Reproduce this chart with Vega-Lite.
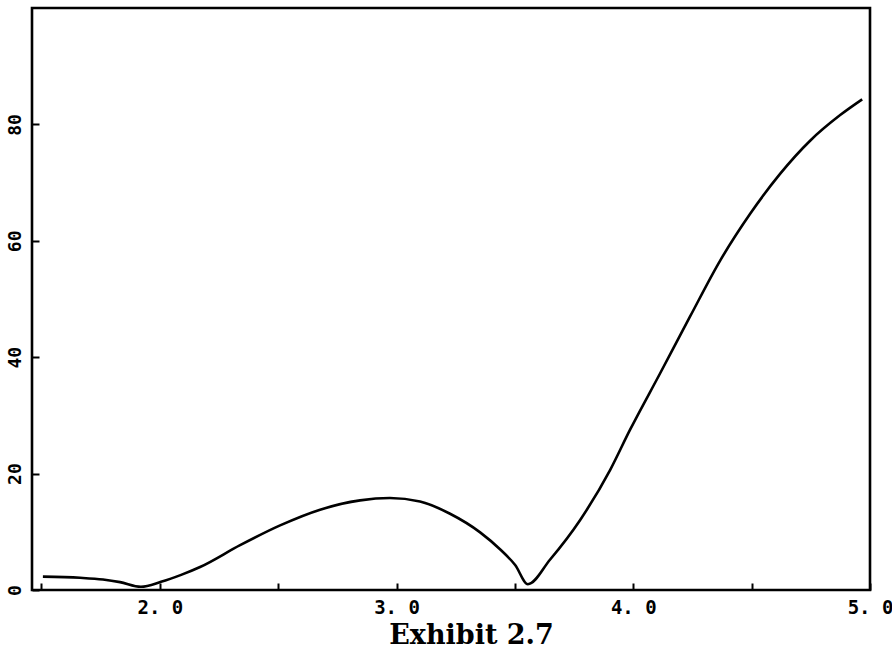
{
  "$schema": "https://vega.github.io/schema/vega-lite/v6.json",
  "width": 838,
  "height": 582,
  "autosize": "none",
  "padding": {"left": 32, "top": 8, "right": 22, "bottom": 61},
  "background": "white",
  "config": {
    "view": {"stroke": "black", "strokeWidth": 2.6},
    "axis": {
      "domain": false,
      "grid": false,
      "ticks": true,
      "tickColor": "black",
      "tickWidth": 2,
      "tickSize": -7,
      "labelColor": "black",
      "labelFont": "DejaVu Sans Mono",
      "labelFontWeight": "bold",
      "labelFontSize": 19
    }
  },
  "data": {
    "values": [
      {"x": 1.506, "y": 2.3},
      {"x": 1.663, "y": 2.1},
      {"x": 1.76, "y": 1.8},
      {"x": 1.832, "y": 1.35},
      {"x": 1.92, "y": 0.55},
      {"x": 2.005, "y": 1.4},
      {"x": 2.09, "y": 2.6},
      {"x": 2.17, "y": 3.95},
      {"x": 2.339, "y": 7.7},
      {"x": 2.508, "y": 11.1},
      {"x": 2.677, "y": 13.8},
      {"x": 2.846, "y": 15.4},
      {"x": 2.972, "y": 15.8},
      {"x": 3.099, "y": 15.2},
      {"x": 3.226, "y": 13.1},
      {"x": 3.353, "y": 9.9},
      {"x": 3.437, "y": 7.0},
      {"x": 3.501, "y": 4.3},
      {"x": 3.555, "y": 1.0},
      {"x": 3.648, "y": 5.2},
      {"x": 3.775, "y": 12.0},
      {"x": 3.902, "y": 20.6},
      {"x": 3.986, "y": 27.5},
      {"x": 4.113, "y": 37.2},
      {"x": 4.24, "y": 47.0},
      {"x": 4.367, "y": 56.6},
      {"x": 4.493, "y": 64.6},
      {"x": 4.62, "y": 71.5},
      {"x": 4.747, "y": 77.2},
      {"x": 4.874, "y": 81.6},
      {"x": 4.967, "y": 84.3}
    ]
  },
  "mark": {"type": "line", "color": "black", "strokeWidth": 2.6, "interpolate": "monotone"},
  "encoding": {
    "x": {
      "field": "x",
      "type": "quantitative",
      "scale": {"domain": [1.46, 5.0], "nice": false, "zero": false},
      "axis": {
        "values": [1.5, 2, 2.5, 3, 3.5, 4, 4.5, 5],
        "labelExpr": "datum.value % 1 === 0 ? replace(format(datum.value, '.1f'), '.', '. ') : ''",
        "labelPadding": 24,
        "labelBaseline": "middle",
        "labelDx": -6,
        "labelFlush": false,
        "labelOverlap": false,
        "title": "Exhibit 2.7",
        "titleFont": "DejaVu Serif",
        "titleFontWeight": "bold",
        "titleFontSize": 27,
        "titleColor": "black",
        "titleX": 439,
        "titleY": 53,
        "titleAlign": "center",
        "titleBaseline": "alphabetic"
      }
    },
    "y": {
      "field": "y",
      "type": "quantitative",
      "scale": {"domain": [0, 100], "nice": false},
      "axis": {
        "values": [0, 20, 40, 60, 80],
        "labelAngle": -90,
        "labelAlign": "center",
        "labelBaseline": "middle",
        "labelPadding": 24,
        "labelFontSize": 18,
        "labelFlush": false,
        "title": null
      }
    }
  }
}
